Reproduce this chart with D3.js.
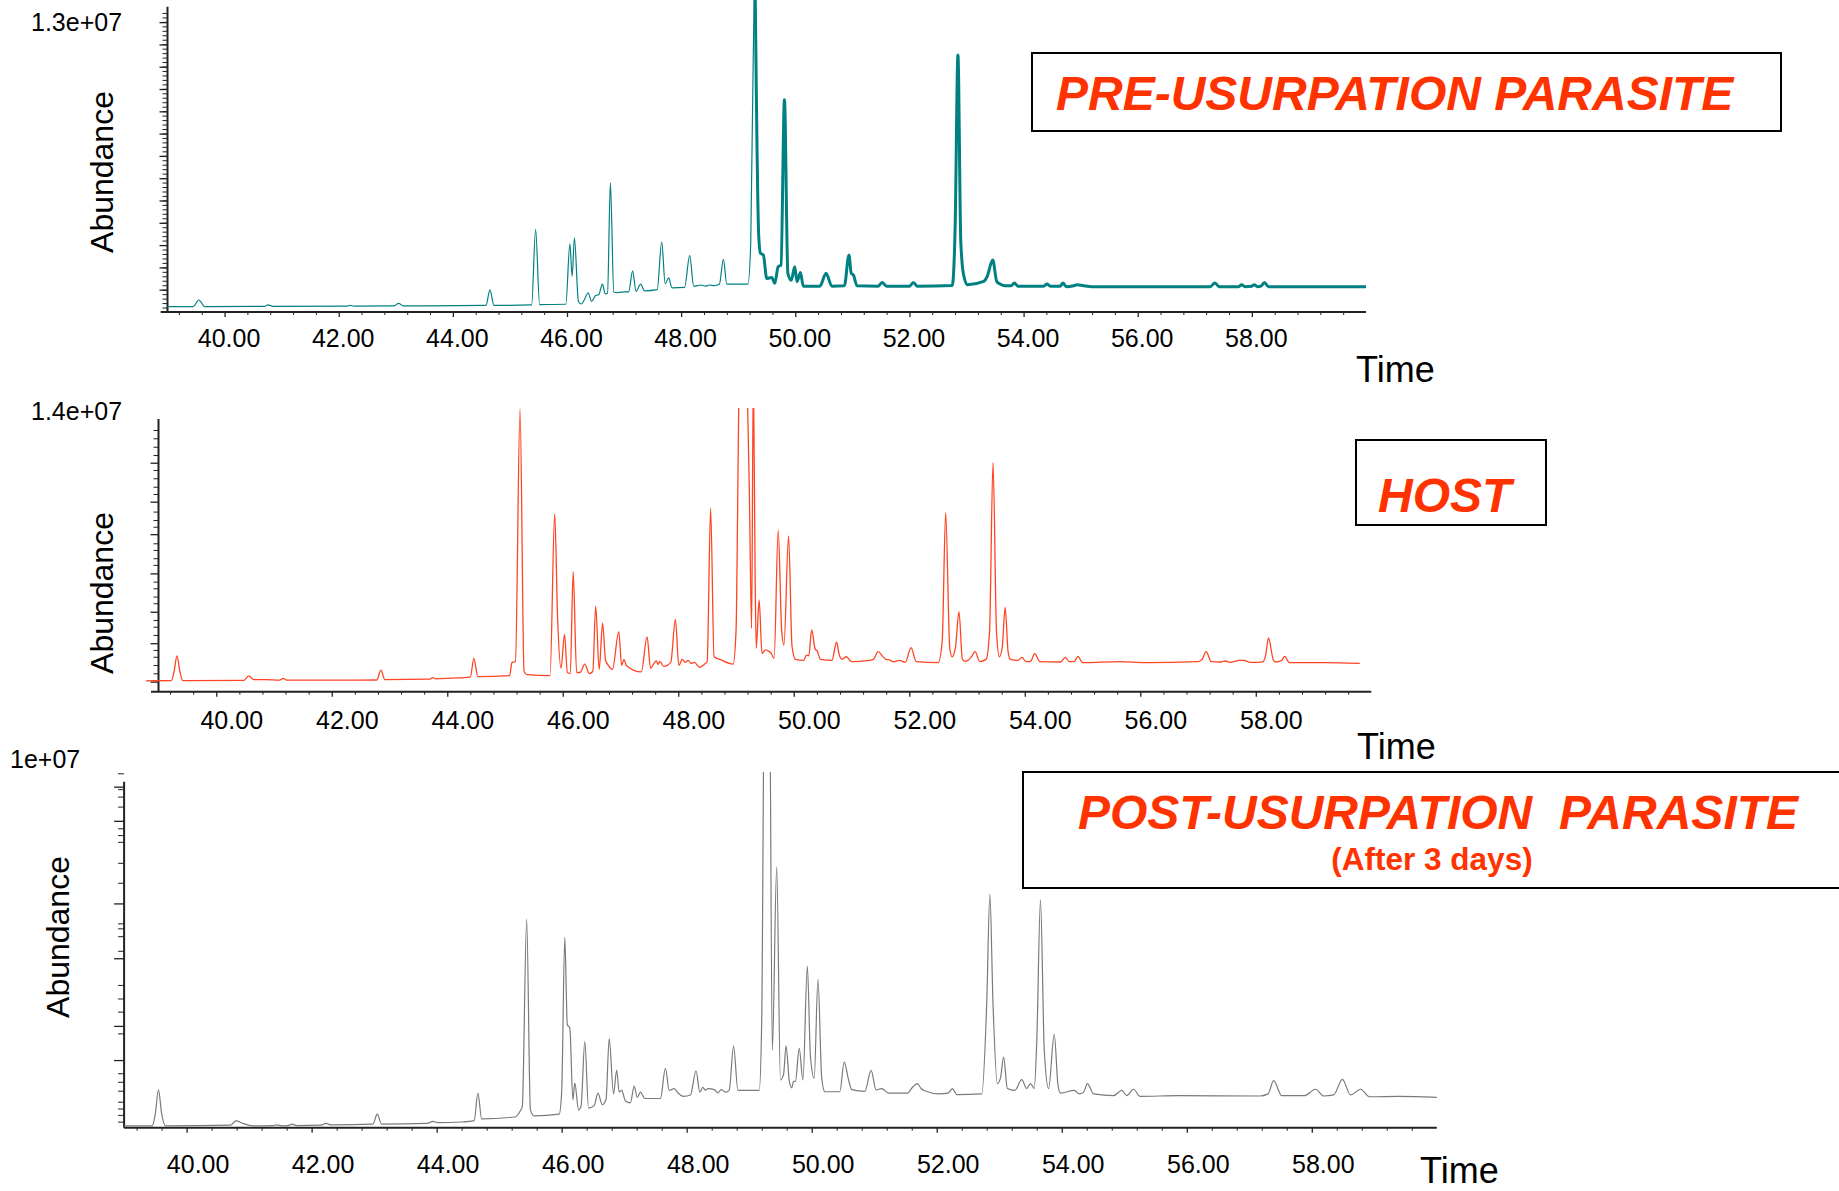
<!DOCTYPE html>
<html>
<head>
<meta charset="utf-8">
<script src="https://cdn.jsdelivr.net/npm/d3@7"></script>
<style>
  body { margin: 0; background: #fff; }
  text { font-family: "Liberation Sans", Arial, sans-serif; }
</style>
</head>
<body>
<div id="canvas"></div>
<script>
"use strict";

/* ---------------- DATA (time in min, abundance in 1e6) ---------------- */

let timeTicks = [40, 42, 44, 46, 48, 50, 52, 54, 56, 58];

let preTrace = [
    [39.0, 0.23], [39.45, 0.23], [39.55, 0.51], [39.65, 0.23], [40.7, 0.24], [40.76, 0.3], [40.85, 0.24],
    [42.15, 0.25], [42.2, 0.28], [42.27, 0.25], [42.97, 0.26], [43.05, 0.37], [43.13, 0.26],
    [44.58, 0.28], [44.65, 0.94], [44.72, 0.28], [45.38, 0.3], [45.45, 3.52], [45.52, 0.31],
    [45.98, 0.33], [46.05, 2.9], [46.09, 1.53], [46.13, 3.16], [46.2, 0.45], [46.25, 0.34], [46.3, 0.5],
    [46.37, 0.82], [46.43, 0.45], [46.5, 0.7], [46.56, 0.75], [46.62, 1.19], [46.67, 0.77], [46.71, 0.8],
    [46.76, 5.5], [46.82, 0.85], [46.88, 0.82], [46.95, 0.85], [47.08, 0.86], [47.15, 1.75], [47.21, 0.88],
    [47.29, 1.19], [47.36, 0.9], [47.58, 0.95], [47.66, 2.99], [47.72, 1.2], [47.78, 1.45], [47.84, 1.03],
    [48.06, 1.05], [48.15, 2.4], [48.22, 1.1], [48.35, 1.15], [48.42, 1.1], [48.5, 1.15], [48.58, 1.12],
    [48.67, 1.18], [48.74, 2.24], [48.8, 1.19], [49.17, 1.19], [49.22, 3.0], [49.29, 15.5],
    [49.36, 3.2], [49.39, 2.5], [49.44, 2.43], [49.5, 1.43], [49.59, 1.47], [49.64, 1.22], [49.7, 1.93],
    [49.75, 2.0], [49.81, 9.03], [49.87, 1.64], [49.93, 1.35], [49.99, 1.93], [50.03, 1.29], [50.09, 1.68],
    [50.14, 1.1], [50.43, 1.1], [50.54, 1.65], [50.64, 1.1], [50.86, 1.12], [50.94, 2.43], [50.98, 1.65],
    [51.02, 1.57], [51.08, 1.12], [51.45, 1.1], [51.52, 1.26], [51.6, 1.1], [52.0, 1.1], [52.07, 1.26],
    [52.14, 1.1], [52.75, 1.13], [52.8, 3.5], [52.85, 10.94], [52.9, 3.0], [52.95, 1.57], [53.02, 1.16],
    [53.3, 1.3], [53.36, 1.5], [53.46, 2.21], [53.53, 1.3], [53.58, 1.2], [53.67, 1.12], [53.78, 1.12],
    [53.84, 1.23], [53.9, 1.1], [54.35, 1.1], [54.41, 1.19], [54.47, 1.1], [54.64, 1.1], [54.69, 1.23],
    [54.75, 1.08], [54.88, 1.12], [54.94, 1.16], [55.05, 1.12], [55.2, 1.08], [57.27, 1.08], [57.35, 1.23],
    [57.43, 1.08], [57.77, 1.08], [57.82, 1.16], [57.88, 1.08], [58.0, 1.1], [58.04, 1.16], [58.1, 1.08],
    [58.16, 1.1], [58.22, 1.26], [58.29, 1.08], [60.0, 1.08]
];

let hostTrace = [
    [38.72, 0.54], [39.22, 0.55], [39.27, 1.0], [39.32, 1.77], [39.37, 1.0], [39.42, 0.55],
    [40.48, 0.56], [40.56, 0.78], [40.65, 0.6], [40.85, 0.6], [41.1, 0.57], [41.16, 0.66], [41.22, 0.57],
    [42.78, 0.58], [42.85, 1.07], [42.92, 0.6], [43.7, 0.62], [43.75, 0.7], [43.8, 0.64], [44.2, 0.68],
    [44.4, 0.72], [44.46, 1.65], [44.53, 0.75], [45.08, 0.8], [45.12, 1.44], [45.18, 1.5], [45.26, 14.0],
    [45.33, 1.0], [45.38, 0.85], [45.78, 0.8], [45.86, 8.8], [45.91, 3.7], [45.97, 1.16], [46.03, 2.84],
    [46.08, 0.95], [46.13, 0.9], [46.18, 5.94], [46.24, 0.95], [46.3, 0.95], [46.38, 1.37], [46.46, 0.9],
    [46.52, 1.0], [46.57, 4.24], [46.63, 1.1], [46.69, 3.39], [46.74, 1.57], [46.79, 1.3], [46.86, 1.1],
    [46.97, 2.96], [47.02, 1.3], [47.06, 1.6], [47.1, 1.3], [47.36, 0.98], [47.46, 2.72], [47.52, 1.16],
    [47.58, 1.4], [47.62, 1.53], [47.65, 1.35], [47.68, 1.5], [47.75, 1.25], [47.87, 1.45], [47.95, 3.58],
    [48.01, 1.3], [48.07, 1.6], [48.12, 1.45], [48.17, 1.55], [48.22, 1.4], [48.28, 1.45], [48.37, 1.2],
    [48.45, 1.35], [48.5, 1.5], [48.56, 9.08], [48.62, 1.73], [48.72, 1.6], [48.95, 1.37], [49.0, 3.0],
    [49.06, 16.0], [49.15, 18.0], [49.23, 10.0], [49.27, 3.14], [49.3, 16.0], [49.33, 6.0], [49.35, 2.15],
    [49.4, 4.54], [49.45, 1.9], [49.51, 2.07], [49.57, 2.0], [49.61, 1.9], [49.66, 1.65], [49.73, 8.0],
    [49.79, 3.06], [49.83, 2.31], [49.91, 7.71], [49.97, 2.23], [50.03, 1.6], [50.17, 1.55], [50.22, 1.81],
    [50.26, 1.78], [50.31, 3.06], [50.37, 2.12], [50.41, 2.0], [50.46, 1.6], [50.66, 1.55], [50.74, 2.45],
    [50.79, 1.8], [50.84, 1.6], [50.91, 1.73], [51.0, 1.49], [51.3, 1.55], [51.38, 1.6], [51.46, 1.98],
    [51.54, 1.75], [51.6, 1.6], [51.66, 1.57], [51.72, 1.48], [51.83, 1.55], [51.93, 1.45], [52.03, 2.18],
    [52.12, 1.49], [52.5, 1.44], [52.57, 2.5], [52.63, 8.87], [52.7, 2.2], [52.74, 1.73], [52.8, 2.2],
    [52.86, 3.96], [52.92, 1.6], [52.97, 1.5], [53.07, 1.7], [53.14, 1.98], [53.22, 1.49], [53.33, 1.6],
    [53.39, 3.0], [53.45, 11.34], [53.51, 3.0], [53.56, 1.73], [53.61, 2.2], [53.66, 4.18], [53.71, 2.0],
    [53.75, 1.6], [53.88, 1.55], [53.95, 1.7], [54.02, 1.49], [54.1, 1.5], [54.17, 1.89], [54.26, 1.49],
    [54.62, 1.47], [54.7, 1.7], [54.77, 1.49], [54.86, 1.5], [54.92, 1.75], [55.0, 1.44], [55.64, 1.49],
    [56.12, 1.44], [57.0, 1.49], [57.07, 1.6], [57.14, 1.98], [57.23, 1.49], [57.4, 1.47], [57.47, 1.52],
    [57.55, 1.45], [57.72, 1.55], [57.8, 1.55], [57.9, 1.45], [58.12, 1.48], [58.17, 1.8], [58.22, 2.66],
    [58.3, 1.6], [58.34, 1.47], [58.45, 1.55], [58.5, 1.75], [58.58, 1.44], [59.2, 1.44], [59.8, 1.4]
];

let postTrace = [
    [39.0, 0.05], [39.45, 0.05], [39.5, 0.4], [39.55, 1.06], [39.6, 0.4], [39.66, 0.05], [40.7, 0.07],
    [40.79, 0.19], [40.9, 0.12], [41.06, 0.05], [41.38, 0.06], [41.45, 0.08], [41.52, 0.05], [41.62, 0.06],
    [41.69, 0.1], [41.76, 0.06], [42.15, 0.07], [42.23, 0.12], [42.3, 0.08], [42.98, 0.1], [43.05, 0.38],
    [43.12, 0.1], [43.85, 0.12], [43.94, 0.18], [44.02, 0.14], [44.4, 0.16], [44.6, 0.2], [44.66, 0.97],
    [44.72, 0.25], [45.25, 0.3], [45.33, 0.45], [45.37, 0.6], [45.44, 5.86], [45.5, 0.5], [45.56, 0.33],
    [45.96, 0.38], [46.0, 1.0], [46.05, 5.35], [46.09, 2.9], [46.13, 2.8], [46.18, 0.78], [46.21, 1.25],
    [46.27, 0.5], [46.31, 0.6], [46.37, 2.42], [46.43, 0.55], [46.52, 0.62], [46.58, 0.97], [46.65, 0.65],
    [46.71, 0.8], [46.76, 2.5], [46.83, 0.95], [46.88, 1.62], [46.92, 1.0], [46.96, 1.05], [47.02, 0.75],
    [47.1, 0.7], [47.16, 1.17], [47.21, 0.85], [47.26, 1.0], [47.33, 0.82], [47.58, 0.82], [47.66, 1.67],
    [47.72, 1.05], [47.8, 1.1], [47.86, 0.98], [47.95, 0.88], [48.06, 0.92], [48.15, 1.6], [48.21, 1.0],
    [48.26, 1.13], [48.3, 1.05], [48.34, 1.1], [48.44, 1.07], [48.5, 0.98], [48.55, 1.07], [48.62, 1.0],
    [48.68, 1.05], [48.75, 2.29], [48.82, 1.05], [49.16, 1.05], [49.2, 3.0], [49.25, 14.0], [49.32, 14.0],
    [49.37, 2.18], [49.44, 7.33], [49.5, 1.34], [49.55, 1.5], [49.59, 2.3], [49.64, 1.34], [49.68, 1.12],
    [49.71, 1.3], [49.74, 1.3], [49.8, 2.23], [49.86, 1.34], [49.93, 4.54], [49.98, 2.0], [50.04, 1.39],
    [50.1, 4.17], [50.16, 1.4], [50.21, 1.01], [50.45, 1.01], [50.52, 1.85], [50.59, 1.34], [50.64, 1.07],
    [50.85, 1.02], [50.95, 1.61], [51.03, 1.06], [51.12, 1.1], [51.23, 0.97], [51.53, 0.97], [51.62, 1.15],
    [51.69, 1.24], [51.75, 1.1], [51.82, 1.03], [52.03, 0.95], [52.18, 0.97], [52.25, 1.1], [52.32, 0.93],
    [52.72, 0.95], [52.8, 3.5], [52.85, 6.56], [52.9, 3.5], [52.97, 1.24], [53.02, 1.4], [53.07, 1.98],
    [53.13, 1.1], [53.25, 1.05], [53.36, 1.35], [53.44, 1.1], [53.5, 1.24], [53.56, 1.1], [53.6, 2.4],
    [53.66, 6.4], [53.72, 2.2], [53.79, 1.1], [53.88, 2.62], [53.94, 1.2], [53.98, 0.97], [54.2, 1.05],
    [54.28, 0.95], [54.35, 1.0], [54.41, 1.24], [54.51, 0.95], [54.83, 0.9], [54.96, 1.05], [55.04, 0.9],
    [55.15, 1.08], [55.25, 0.88], [55.87, 0.9], [57.17, 0.89], [57.3, 0.95], [57.39, 1.32], [57.52, 0.9],
    [57.88, 0.9], [58.06, 1.08], [58.19, 0.89], [58.35, 0.92], [58.49, 1.36], [58.62, 0.92], [58.78, 1.08],
    [58.92, 0.87], [59.4, 0.88], [60.0, 0.85]
];

// y-axis tick marks (abundance, 1e6)
let hostTicksMajor = [11.34, 9.41, 7.80, 5.86, 3.96, 2.40, 0.50];
let hostTicksMinor = [12.96, 12.55, 12.13, 11.72, 10.98, 10.57, 10.15, 9.79, 8.92, 8.50, 8.17, 7.35, 7.02,
    6.61, 6.28, 5.45, 5.12, 4.71, 4.38, 3.55, 3.22, 2.81, 2.07, 1.73, 1.32, 0.91];
let postTicksMajor = [9.58, 8.62, 6.30, 4.76, 2.86, 1.90];
let postTicksMinor = [9.955, 9.51, 9.30, 9.02, 8.41, 8.22, 8.03, 7.44, 6.88, 5.74, 5.60, 5.38, 4.97, 4.01,
    3.63, 3.26, 2.65, 1.53, 1.29, 1.04, 0.73, 0.54, 0.36, 0.17];

/* ---------------- SVG ---------------- */

let svgWidth = 1839;
let svgHeight = 1191;

let svg = d3.select("#canvas")
    .append("svg")
    .attr("width", svgWidth)
    .attr("height", svgHeight);

let defs = svg.append("defs");

let titleColor = "#ff3300";
let axisColor = "#222";

/* ---------------- PANELS ---------------- */

let panels = [
    {
        id: "pre", data: preTrace, color: "#008080", width: 1.2, thickFrom: 49.29, thickWidth: 3,
        x0: 167.5, x1: 1366, xAxisStart: 160.7, yBase: 312, yTop: 6.6, yMax: 13, clipTop: 0, yAxisTop: 6.7,
        major: d3.range(0.95, 12.4, 0.949), minor: d3.range(0.19, 12.9, 0.19),
        majorLen: 8, minorLen: 5, xMajorLen: 5, labelDx: 4, labelY: 34.7,
        topLabel: "1.3e+07", topLabelX: 31, topLabelY: 31,
        abX: 113, abY: 172, timeX: 1356, timeY: 382
    },
    {
        id: "host", data: hostTrace, color: "#ff4422", width: 1.3,
        x0: 158.5, x1: 1371.3, xAxisStart: 151, yBase: 691.7, yTop: 409, yMax: 14, clipTop: 408, yAxisTop: 419,
        major: hostTicksMajor, minor: hostTicksMinor,
        majorLen: 8, minorLen: 5, xMajorLen: 5, labelDx: 15, labelY: 37.6,
        topLabel: "1.4e+07", topLabelX: 31, topLabelY: 420,
        abX: 113, abY: 593, timeX: 1357, timeY: 759
    },
    {
        id: "post", data: postTrace, color: "#7a7a7a", width: 1.2,
        x0: 124.1, x1: 1436.8, xAxisStart: 124.1, yBase: 1127.7, yTop: 771.7, yMax: 10, clipTop: 772, yAxisTop: 781.7,
        major: postTicksMajor, minor: postTicksMinor,
        majorLen: 10, minorLen: 6, xMajorLen: 5, labelDx: 11, labelY: 45,
        topLabel: "1e+07", topLabelX: 10, topLabelY: 768,
        abX: 69, abY: 937, timeX: 1420, timeY: 1183
    }
];

panels.forEach(drawPanel);

function drawPanel(p) {

    let xScale = d3.scaleLinear().domain([39, 60]).range([p.x0, p.x1]);
    let yScale = d3.scaleLinear().domain([0, p.yMax]).range([p.yBase, p.yTop]);

    let g = svg.append("g").attr("id", p.id);

    // clip so the tall peaks are cut flat at the top
    defs.append("clipPath").attr("id", "clip-" + p.id)
        .append("rect")
        .attr("x", p.xAxisStart - 5)
        .attr("y", p.clipTop)
        .attr("width", p.x1 - p.xAxisStart + 10)
        .attr("height", p.yBase - p.clipTop);

    /* --- x axis --- */
    let minorTimes = d3.range(39.2, 59.9, 0.4).filter(function (t) {
        return Math.abs(t / 2 - Math.round(t / 2)) > 0.01;
    });

    g.append("g")
        .attr("transform", "translate(0," + p.yBase + ")")
        .call(d3.axisBottom(xScale).tickValues(minorTimes).tickSize(3).tickSizeOuter(0).tickFormat(""))
        .call(function (a) { a.select(".domain").remove(); })
        .selectAll("line").attr("stroke", axisColor);

    let xAxis = g.append("g")
        .attr("transform", "translate(0," + p.yBase + ")")
        .call(d3.axisBottom(xScale).tickValues(timeTicks).tickSize(p.xMajorLen).tickSizeOuter(0)
            .tickFormat(d3.format(".2f")));
    xAxis.select(".domain").remove();
    xAxis.selectAll("line").attr("stroke", axisColor).attr("stroke-width", 1.3);
    xAxis.selectAll("text")
        .attr("y", p.labelY)
        .attr("dy", 0)
        .attr("dx", p.labelDx)
        .attr("fill", "#000")
        .style("font-family", "'Liberation Sans', Arial, sans-serif")
        .style("font-size", "25px");

    /* --- y axis --- */
    g.append("g")
        .attr("transform", "translate(" + p.x0 + ",0)")
        .call(d3.axisLeft(yScale).tickValues(p.minor).tickSize(p.minorLen).tickSizeOuter(0).tickFormat(""))
        .call(function (a) { a.select(".domain").remove(); })
        .selectAll("line").attr("stroke", axisColor);

    g.append("g")
        .attr("transform", "translate(" + p.x0 + ",0)")
        .call(d3.axisLeft(yScale).tickValues(p.major).tickSize(p.majorLen).tickSizeOuter(0).tickFormat(""))
        .call(function (a) { a.select(".domain").remove(); })
        .selectAll("line").attr("stroke", axisColor).attr("stroke-width", 1.3);

    // axis lines
    g.append("line")
        .attr("x1", p.xAxisStart).attr("x2", p.x1)
        .attr("y1", p.yBase).attr("y2", p.yBase)
        .attr("stroke", axisColor).attr("stroke-width", 2);

    g.append("line")
        .attr("x1", p.x0).attr("x2", p.x0)
        .attr("y1", p.yAxisTop).attr("y2", p.yBase)
        .attr("stroke", axisColor).attr("stroke-width", 2);

    /* --- trace --- */
    let line = d3.line()
        .x(function (d) { return xScale(d[0]); })
        .y(function (d) { return yScale(d[1]); })
        .curve(d3.curveMonotoneX);

    let traceG = g.append("g").attr("clip-path", "url(#clip-" + p.id + ")");

    if (p.thickFrom) {
        traceG.append("path")
            .datum(p.data.filter(function (d) { return d[0] <= p.thickFrom; }))
            .attr("d", line)
            .attr("fill", "none")
            .attr("stroke", p.color)
            .attr("stroke-width", p.width)
            .attr("stroke-linejoin", "round");

        traceG.append("path")
            .datum(p.data.filter(function (d) { return d[0] >= p.thickFrom; }))
            .attr("d", line)
            .attr("fill", "none")
            .attr("stroke", p.color)
            .attr("stroke-width", p.thickWidth)
            .attr("stroke-linejoin", "round");
    } else {
        traceG.append("path")
            .datum(p.data)
            .attr("d", line)
            .attr("fill", "none")
            .attr("stroke", p.color)
            .attr("stroke-width", p.width)
            .attr("stroke-linejoin", "round");
    }

    /* --- labels --- */
    g.append("text")
        .attr("x", p.topLabelX).attr("y", p.topLabelY)
        .style("font-size", "25px")
        .text(p.topLabel);

    g.append("text")
        .attr("transform", "translate(" + p.abX + "," + p.abY + ") rotate(-90)")
        .attr("text-anchor", "middle")
        .style("font-size", "32px")
        .text("Abundance");

    g.append("text")
        .attr("x", p.timeX).attr("y", p.timeY)
        .style("font-size", "36px")
        .text("Time");
}

/* ---------------- TITLE BOXES ---------------- */

function drawBox(x, y, w, h) {
    svg.append("rect")
        .attr("x", x).attr("y", y)
        .attr("width", w).attr("height", h)
        .attr("fill", "none")
        .attr("stroke", "#000")
        .attr("stroke-width", 2);
}

function drawTitle(str, x, y, size, italic, anchor) {
    svg.append("text")
        .attr("x", x).attr("y", y)
        .attr("text-anchor", anchor || "start")
        .attr("fill", titleColor)
        .style("font-size", size + "px")
        .style("font-weight", "bold")
        .style("font-style", italic ? "italic" : "normal")
        .style("white-space", "pre")
        .text(str);
}

drawBox(1032, 53, 749, 78);
drawTitle("PRE-USURPATION PARASITE", 1056, 109.5, 48, true);

drawBox(1356, 440, 190, 85);
drawTitle("HOST", 1378, 512, 48, true);

drawBox(1023, 772, 830, 116);
drawTitle("POST-USURPATION  PARASITE", 1078, 829, 48, true);
drawTitle("(After 3 days)", 1432, 870, 31.5, false, "middle");
</script>
</body>
</html>
